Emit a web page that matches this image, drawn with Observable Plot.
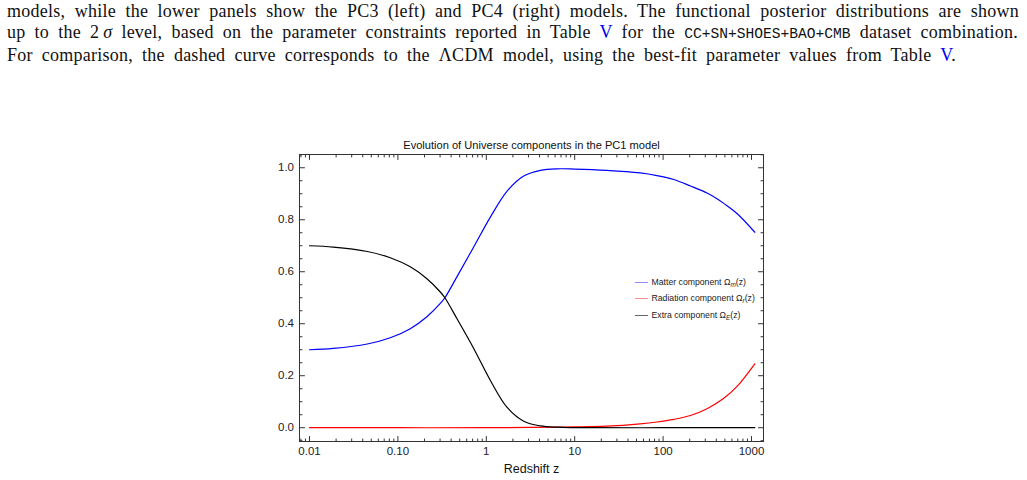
<!DOCTYPE html>
<html><head><meta charset="utf-8">
<script src="https://cdn.jsdelivr.net/npm/d3@7"></script>
<script src="https://cdn.jsdelivr.net/npm/@observablehq/plot@0.6"></script>
<style>
body{margin:0;background:#fff;width:1027px;height:480px;overflow:hidden;position:relative}
#chart{position:absolute;left:0;top:0}
#cap{position:absolute;left:7px;top:1px;font-family:"Liberation Serif","Times New Roman",serif;font-size:18px;letter-spacing:0.25px;line-height:21px;color:#111;z-index:2}
.ln{text-align:justify;text-align-last:justify;white-space:normal}
.tt{font-family:"Liberation Mono","DejaVu Sans Mono",monospace;font-size:14.6px;letter-spacing:0}
.ref{color:#0000ee}
.leg{position:absolute;left:635px;height:14px;line-height:14px;font-family:"Liberation Sans",Arial,sans-serif;font-size:8.7px;color:#222;white-space:nowrap;z-index:2}
.leg .sw{position:absolute;left:0;top:7px;width:13px;height:1px}
.leg .tx{position:absolute;left:16.5px;top:0}
.leg sub{font-size:6.4px;vertical-align:-2px;line-height:0}
</style></head>
<body>
<div id="cap">
<div class="ln" style="width:1012px">models, while the lower panels show the PC3 (left) and PC4 (right) models. The functional posterior distributions are shown</div>
<div class="ln" style="width:1011px">up to the 2&#8201;<i>σ</i> level, based on the parameter constraints reported in Table <span class="ref">V</span> for the <span class="tt">CC+SN+SHOES+BAO+CMB</span> dataset combination.</div>
<div class="ln" style="width:949px">For comparison, the dashed curve corresponds to the ΛCDM model, using the best-fit parameter values from Table <span class="ref">V</span>.</div>
</div>
<div id="chart"></div>
<script>
// ---- data ----
const chartTitle = "Evolution of Universe components in the PC1 model";
const xTitle = "Redshift z";
const redshiftTicks = [0.01, 0.1, 1, 10, 100, 1000];
const redshiftTickLabels = ["0.01", "0.10", "1", "10", "100", "1000"];
const omegaTicks = [0, 0.2, 0.4, 0.6, 0.8, 1.0];
const omegaTickLabels = ["0.0", "0.2", "0.4", "0.6", "0.8", "1.0"];

const matterZ =     [0.01, 0.0186, 0.045, 0.082, 0.138, 0.213, 0.30, 0.34, 0.47, 0.72, 1.12, 1.72, 2.65, 4.1, 6.3, 10, 23, 55, 85, 132, 204, 318, 407, 490, 690, 1090];
const matterOmega = [0.300, 0.305, 0.322, 0.346, 0.381, 0.427, 0.477, 0.500, 0.583, 0.695, 0.812, 0.910, 0.968, 0.990, 0.996, 0.995, 0.990, 0.980, 0.970, 0.955, 0.930, 0.902, 0.881, 0.862, 0.823, 0.752];

const radiationZ =     [0.01, 0.1, 1, 3, 6.3, 10, 23, 55, 85, 132, 204, 318, 490, 690, 1090];
const radiationOmega = [0.000, 0.000, 0.000, 0.001, 0.002, 0.003, 0.006, 0.015, 0.022, 0.032, 0.047, 0.074, 0.114, 0.160, 0.246];

const extraZ =     [0.01, 0.0186, 0.045, 0.082, 0.138, 0.213, 0.30, 0.34, 0.47, 0.72, 1.12, 1.72, 2.65, 4.1, 6.3, 10, 15, 100, 1090];
const extraOmega = [0.700, 0.695, 0.678, 0.654, 0.619, 0.573, 0.523, 0.500, 0.417, 0.305, 0.180, 0.078, 0.025, 0.007, 0.002, 0.0005, 0.000, 0.000, 0.000];

const seriesLabels = ["Matter component Ω<sub><i>m</i></sub>(z)", "Radiation component Ω<sub><i>r</i></sub>(z)", "Extra component Ω<sub><i>E</i></sub>(z)"];
const seriesColors = ["#0000ff", "#ff0000", "#000000"];
const legendColors = ["#8c8cff", "#ff8c8c", "#666666"];

// ---- build tables ----
const toRows = (zs, vs) => zs.map((z, i) => ({z, v: vs[i]}));
const matter = toRows(matterZ, matterOmega);
const radiation = toRows(radiationZ, radiationOmega);
const extra = toRows(extraZ, extraOmega);

// minor ticks
const xDomain = [Math.pow(10, -2.1131), Math.pow(10, 3.1357)];
const xMinor = [];
for (let k = -3; k <= 3; k++) for (let m = 2; m <= 9; m++) {
  const v = m * Math.pow(10, k);
  if (v >= xDomain[0] && v <= xDomain[1]) xMinor.push(v);
}
const yDomain = [-0.053, 1.051];
const yMinor = d3.range(-1, 22).map(i => i * 0.05).filter(v => Math.abs(v / 0.2 - Math.round(v / 0.2)) > 1e-6 && v >= yDomain[0] && v <= yDomain[1]);

const tickShape = {draw(ctx, l) { ctx.moveTo(0, 0); ctx.lineTo(0, -l); }};
const frameColor = "#333";
function xTickMarks(values, len) {
  return [
    Plot.vector(values, {x: d => d, frameAnchor: "bottom", rotate: 0, length: len, anchor: "start", shape: tickShape, stroke: frameColor, strokeWidth: 1}),
    Plot.vector(values, {x: d => d, frameAnchor: "top", rotate: 180, length: len, anchor: "start", shape: tickShape, stroke: frameColor, strokeWidth: 1})
  ];
}
function yTickMarks(values, len) {
  return [
    Plot.vector(values, {y: d => d, frameAnchor: "left", rotate: 90, length: len, anchor: "start", shape: tickShape, stroke: frameColor, strokeWidth: 1}),
    Plot.vector(values, {y: d => d, frameAnchor: "right", rotate: -90, length: len, anchor: "start", shape: tickShape, stroke: frameColor, strokeWidth: 1})
  ];
}

const chart = Plot.plot({
  width: 1027,
  height: 480,
  marginLeft: 299,
  marginRight: 264,
  marginTop: 154,
  marginBottom: 39,
  style: {fontFamily: "'Liberation Sans', Arial, sans-serif", fontSize: "11.5px", color: "#222", background: "transparent"},
  x: {type: "log", domain: xDomain, axis: null},
  y: {domain: yDomain, axis: null},
  marks: [
    Plot.line(matter, {x: "z", y: "v", stroke: seriesColors[0], strokeWidth: 1.2, curve: "catmull-rom"}),
    Plot.line(radiation, {x: "z", y: "v", stroke: seriesColors[1], strokeWidth: 1.2, curve: "catmull-rom"}),
    Plot.line(extra, {x: "z", y: "v", stroke: seriesColors[2], strokeWidth: 1.2, curve: "catmull-rom"}),
    Plot.frame({stroke: frameColor, strokeWidth: 1}),
    ...xTickMarks(redshiftTicks, 5),
    ...xTickMarks(xMinor, 2.5),
    ...yTickMarks(omegaTicks, 5),
    ...yTickMarks(yMinor, 2.5),
    Plot.text(redshiftTicks, {x: d => d, text: (d, i) => redshiftTickLabels[i], frameAnchor: "bottom", lineAnchor: "middle", dy: 10, fontSize: 11.5, fill: "#222"}),
    Plot.text(omegaTicks, {y: d => d, text: (d, i) => omegaTickLabels[i], frameAnchor: "left", textAnchor: "end", dx: -5.5, fontSize: 11.5, fill: "#222"}),
    Plot.text([chartTitle], {text: d => d, frameAnchor: "top", lineAnchor: "middle", dy: -9, fontSize: 11.1, fill: "#111"}),
    Plot.text([xTitle], {text: d => d, frameAnchor: "bottom", lineAnchor: "middle", dy: 27, fontSize: 12.5, fill: "#111"})
  ]
});
document.getElementById("chart").appendChild(chart);

const rowCenters = [281.7, 298.3, 315];
seriesLabels.forEach((lab, i) => {
  const row = document.createElement("div");
  row.className = "leg";
  row.style.top = (rowCenters[i] - 7) + "px";
  row.innerHTML = `<span class="sw" style="background:${legendColors[i]}"></span><span class="tx">${lab}</span>`;
  document.body.appendChild(row);
});
</script>
</body></html>
